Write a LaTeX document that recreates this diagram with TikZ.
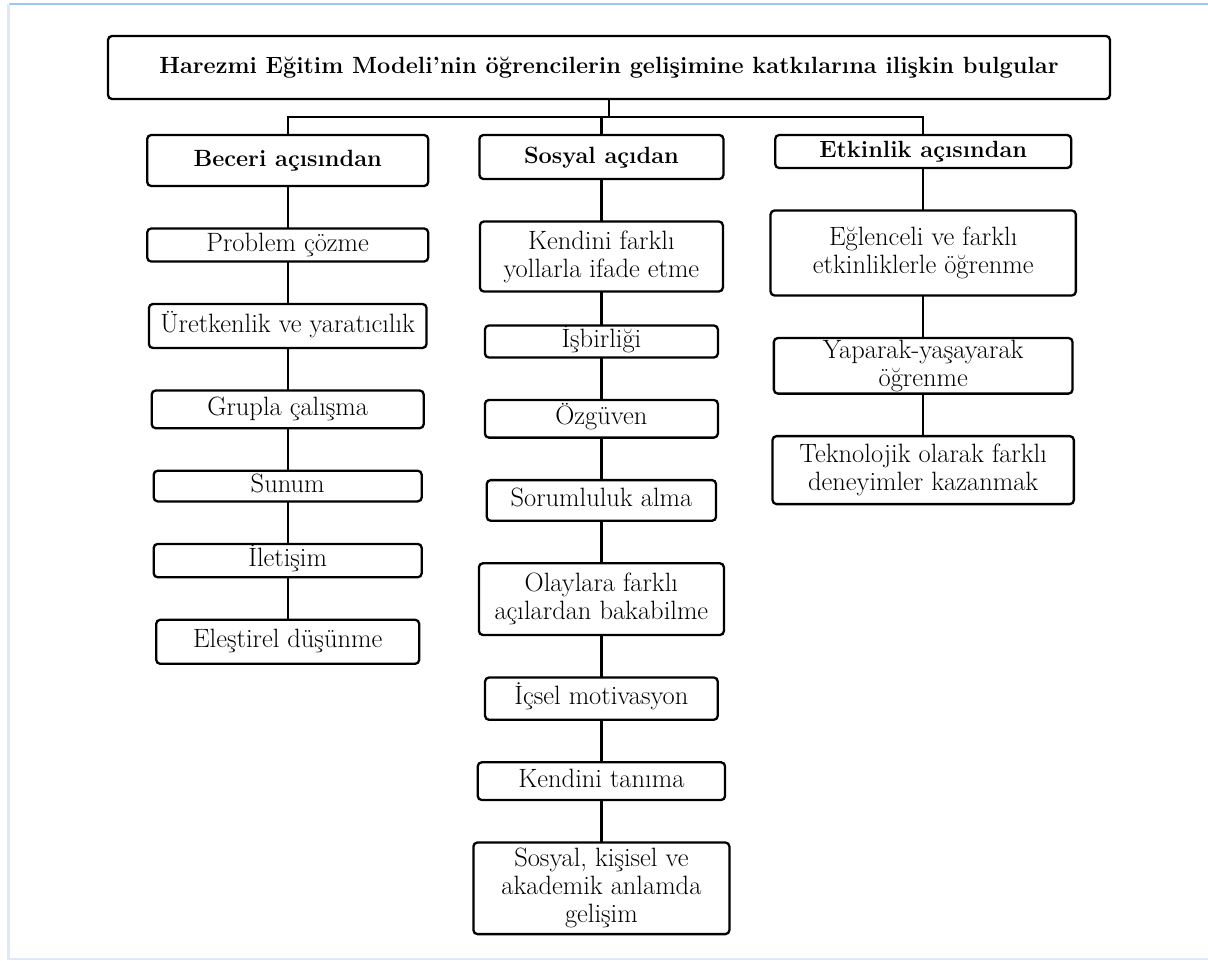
\documentclass[tikz,border=0pt]{standalone}
\usepackage{tikz}
\usetikzlibrary{positioning}
\definecolor{frametop}{rgb}{0.62,0.77,0.95}
\definecolor{frameside}{rgb}{0.87,0.91,0.97}
\tikzstyle{bx}=[%
      rectangle, rounded corners=4pt, draw=black, line width=2.3pt, fill=white,
      inner sep=0pt, outer sep=0pt, align=center, font=\fontsize{26.5}{28}\selectfont
]
\tikzstyle{hd}=[%
      bx, anchor=north, text height=17pt, text depth=5pt,
      font=\fontsize{23.5}{27}\bfseries\selectfont
]
\tikzstyle{sg}=[%
      bx, text height=18pt, text depth=6pt
]

\begin{document}
\begin{tikzpicture}[x=1pt, y=-1pt,
    node distance=42.5pt,
    line width=2.3pt
  ]
    \useasboundingbox (0,0) rectangle (1208,961);
    % frame
    \draw[frametop, line width=2pt] (8.5,4) -- (1208,4);
    \draw[frameside, line width=2.5pt] (8.5,4) -- (8.5,959) -- (1208,959);

    \node[bx, font=\fontsize{23.5}{27}\bfseries\selectfont, minimum width=1002pt, minimum height=63pt]
        (title) at (609,67.5) {Harezmi Eğitim Modeli’nin öğrencilerin gelişimine katkılarına ilişkin bulgular};

    \node[hd, minimum width=281pt, minimum height=51pt] (beceri) at (287.7,135) {Beceri açısından};
    \node[hd, minimum width=244pt, minimum height=44pt] (sosyal) at (601.4,135) {Sosyal açıdan};
    \node[hd, minimum width=296pt, minimum height=33pt] (etkinlik) at (923.2,135) {Etkinlik açısından};

    % beceri
    \node[sg, minimum width=281pt, minimum height=33pt] (problem) [below=of beceri] {Problem çözme};
    \node[sg, minimum width=277.6pt, minimum height=44pt] (uretken) [below=of problem] {Üretkenlik ve yaratıcılık};
    \node[sg, minimum width=272pt, minimum height=37.7pt] (grupla) [below=of uretken] {Grupla çalışma};
    \node[sg, minimum width=268pt, minimum height=30.7pt] (sunum) [below=of grupla] {Sunum};
    \node[sg, minimum width=268pt, minimum height=33.4pt] (iletisim) [below=of sunum] {İletişim};
    \node[sg, minimum width=263pt, minimum height=44pt] (elestirel) [below=of iletisim] {Eleştirel düşünme};

    % sosyal
    \node[bx, minimum width=243pt, minimum height=70pt] (kendini) [below=of sosyal] {Kendini farklı\\yollarla ifade etme};
    \node[sg, minimum width=233pt, minimum height=32pt] (isbirligi) [below=34pt of kendini] {İşbirliği};
    \node[sg, minimum width=233pt, minimum height=37.6pt] (ozguven) [below=of isbirligi] {Özgüven};
    \node[sg, minimum width=229.3pt, minimum height=40.7pt] (sorumluluk) [below=of ozguven] {Sorumluluk alma};
    \node[bx, minimum width=245pt, minimum height=71.7pt] (olaylara) [below=of sorumluluk] {Olaylara farklı\\açılardan bakabilme};
    \node[sg, minimum width=232.7pt, minimum height=42.3pt] (icsel) [below=of olaylara] {İçsel motivasyon};
    \node[sg, minimum width=247.3pt, minimum height=37.7pt] (tanima) [below=of icsel] {Kendini tanıma};
    \node[bx, minimum width=256pt, minimum height=91.6pt] (gelisim) [below=of tanima] {Sosyal, kişisel ve\\akademik anlamda\\gelişim};

    % etkinlik
    \node[bx, minimum width=305.3pt, minimum height=85pt] (eglenceli) [below=of etkinlik] {Eğlenceli ve farklı\\etkinliklerle öğrenme};
    \node[bx, minimum width=298.7pt, minimum height=55.6pt] (yaparak) [below=of eglenceli] {Yaparak-yaşayarak\\öğrenme};
    \node[bx, minimum width=301.3pt, minimum height=68pt] (teknoloji) [below=of yaparak] {Teknolojik olarak farklı\\deneyimler kazanmak};

    \coordinate (split) at (609,117);
    \draw (title) -- (split);
    \draw (beceri) |- (split) -| (etkinlik);
    \draw (sosyal) -- (sosyal |- split);

    \path (beceri) edge (problem)
          (problem) edge (uretken)
          (uretken) edge (grupla)
          (grupla) edge (sunum)
          (sunum) edge (iletisim)
          (iletisim) edge (elestirel)
          (sosyal) edge (kendini)
          (kendini) edge (isbirligi)
          (isbirligi) edge (ozguven)
          (ozguven) edge (sorumluluk)
          (sorumluluk) edge (olaylara)
          (olaylara) edge (icsel)
          (icsel) edge (tanima)
          (tanima) edge (gelisim)
          (etkinlik) edge (eglenceli)
          (eglenceli) edge (yaparak)
          (yaparak) edge (teknoloji)
    ;
  \end{tikzpicture}
\end{document}
